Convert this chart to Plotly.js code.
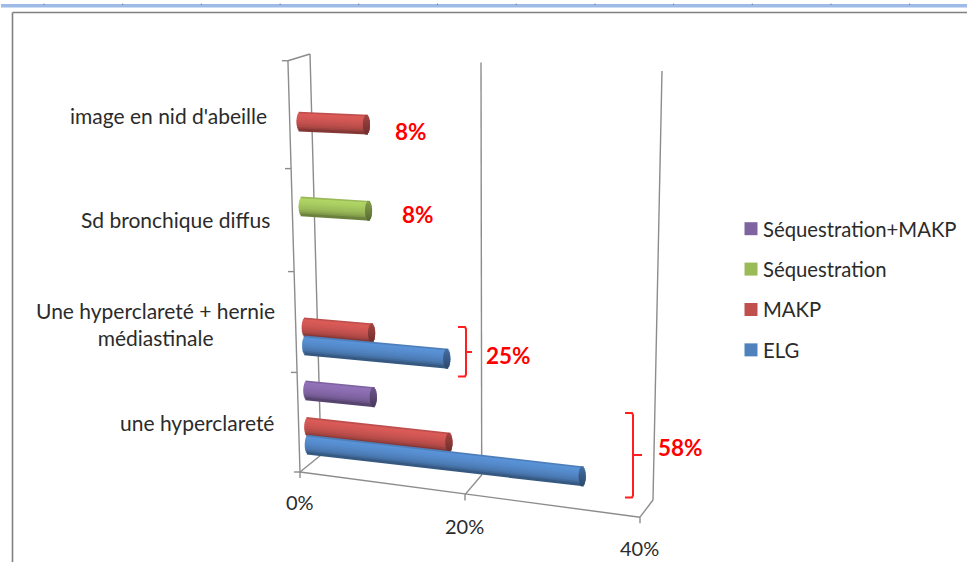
<!DOCTYPE html>
<html lang="fr">
<head>
<meta charset="utf-8">
<title>Images radiologiques</title>
<script src="https://cdn.plot.ly/plotly-3.0.1.min.js"></script>
<style>html,body{margin:0;padding:0;background:#fff;overflow:hidden}#chart{width:967px;height:562px}</style>
</head>
<body>
<div id="chart"></div>
<script>
// Categories, bottom row first; percentages per radiological pattern.
const categories = ["une hyperclareté", "Une hyperclareté + hernie<br>médiastinale", "Sd bronchique diffus", "image en nid d'abeille"];
const ELG = [33, 17, 0, 0];
const MAKP = [17, 8, 0, 8];
const Sequestration = [0, 0, 8, 0];
const SequestrationMAKP = [8, 0, 0, 0];
const valueTicks = [0, 20, 40];
const valueTickLabels = ["0%", "20%", "40%"];
const groupLabels = ["58%", "25%", "8%", "8%"];

const seriesList = [
  {name: "ELG", values: ELG, color: [79, 129, 189], slot: 0.27},
  {name: "MAKP", values: MAKP, color: [192, 80, 77], slot: 0.45},
  {name: "Séquestration", values: Sequestration, color: [155, 187, 89], slot: 0.635},
  {name: "Séquestration+MAKP", values: SequestrationMAKP, color: [128, 100, 162], slot: 0.82}
];

// Oblique projection of the 3D plot: pixels per percent, and how the
// rows drift, tilt and compress with depth up the category axis.
const W = 967, H = 562, ORIGIN = 300, K = 8.3;
const toX = px => (px - ORIGIN) / K;
const rowLeft = r => 309 - 2.6 * r;
const rowY = r => 471 - 97.5 * r - 1.1 * r * r;
const rowSlope = r => 0.122 - 0.0215 * r;
const project = (v, r) => ({x: toX(rowLeft(r)) + v, y: rowY(r) + rowSlope(r) * K * v});

// Wall and floor edges of the box, as functions of the percentage.
const floorFront = v => ({x: toX(300 + 8.0 * v + 0.0125 * v * v), y: 472 + 1.13 * v});
const floorBack = v => ({x: toX(321 + 7.77 * v + 0.01325 * v * v), y: 455 + 0.875 * v + 0.00625 * v * v});
const wallTop = v => ({x: toX(310 + 8.3 * v + 0.0125 * v * v), y: 54 + 0.425 * v});
const axisEdge = r => ({x: toX(300 - 3 * r), y: r === 0 ? 472 : rowY(r)});

const traces = [];
const frameX = [], frameY = [];
const seg = (a, b) => { frameX.push(a.x, b.x, null); frameY.push(a.y, b.y, null); };
valueTicks.forEach(v => {
  seg(floorFront(v), floorBack(v));
  seg(floorBack(v), wallTop(v));
  const f = floorFront(v);
  seg(f, {x: f.x, y: f.y + 6});
});
seg(floorFront(valueTicks[0]), floorFront(valueTicks[2]));
const AXIS_TOP = 4.025;
[0, 1, 2, 3, AXIS_TOP].forEach(r => {
  const e = axisEdge(r);
  seg({x: e.x - 6 / K, y: e.y}, e);
});
seg(axisEdge(0), axisEdge(AXIS_TOP));
seg(axisEdge(AXIS_TOP), wallTop(0));
traces.push({type: "scatter", mode: "lines", x: frameX, y: frameY, showlegend: false, hoverinfo: "skip",
  line: {color: "#8c8c8c", width: 1.4}});

// Each cylinder is stacked from thin horizontal bands so the shading
// wraps around it; the far end gets a darker elliptical cap.
const THICK = 20.5, BANDS = 11, BULGE = 3.5;
const shade = t => {
  const stops = [[-1, 0.9], [-0.75, 1.14], [-0.35, 1.1], [0.25, 1.0], [0.65, 0.88], [1, 0.62]];
  for (let i = 1; i < stops.length; i++) {
    if (t <= stops[i][0]) {
      const a = stops[i - 1], b = stops[i];
      return a[1] + (b[1] - a[1]) * (t - a[0]) / (b[0] - a[0]);
    }
  }
  return 0.62;
};
const rgb = (c, f) => "rgb(" + c.map(n => Math.min(255, Math.round(n * f))).join(",") + ")";

function addCylinder(series, catIndex, value) {
  const r = catIndex + series.slot;
  const start = project(0, r), end = project(value, r);
  const bw = THICK / BANDS;
  for (let i = 0; i < BANDS; i++) {
    const t = -1 + (2 * i + 1) / BANDS;
    const off = t * (THICK - bw) / 2;
    const bulge = BULGE * Math.sqrt(Math.max(0, 1 - t * t)) / K;
    traces.push({type: "scatter", mode: "lines", showlegend: false, hoverinfo: "skip",
      x: [start.x - bulge, end.x + bulge], y: [start.y + off, end.y + off],
      line: {color: rgb(series.color, shade(t)), width: bw + 1}});
  }
  for (let i = 0; i < BANDS; i++) {
    const t = -1 + (2 * i + 1) / BANDS;
    const off = t * (THICK - bw) / 2;
    const bulge = BULGE * Math.sqrt(Math.max(0, 1 - t * t)) / K;
    const dy = rowSlope(r) * K * bulge;
    traces.push({type: "scatter", mode: "lines", showlegend: false, hoverinfo: "skip",
      x: [end.x - bulge, end.x + bulge], y: [end.y + off - dy, end.y + off + dy],
      line: {color: rgb(series.color, 0.72 - 0.14 * t), width: bw + 1}});
  }
}

// Far rows are painted first so nearer cylinders sit in front of them.
for (let c = categories.length - 1; c >= 0; c--) {
  for (let s = seriesList.length - 1; s >= 0; s--) {
    if (seriesList[s].values[c] > 0) addCylinder(seriesList[s], c, seriesList[s].values[c]);
  }
}

// Red brackets grouping the bars of a category.
const bracket = (px, top, bottom, tipPx, tipY) => {
  const xs = [px - 8, px - 1, px, px, tipPx, px, px, px - 1, px - 8].map(toX);
  const ys = [top, top, top + 2, tipY, tipY, tipY, bottom - 2, bottom, bottom];
  traces.push({type: "scatter", mode: "lines", x: xs, y: ys, showlegend: false, hoverinfo: "skip",
    line: {color: "#ff1f1f", width: 2}});
};
bracket(633, 413, 497.5, 642, 455);
bracket(466, 327, 376.5, 472, 352);

// Legend entries, top to bottom.
[...seriesList].reverse().forEach(s => {
  traces.push({type: "scatter", mode: "markers", x: [null], y: [null], name: s.name, legendgroup: s.name,
    marker: {symbol: "square", size: 13, color: rgb(s.color, 1)}, hoverinfo: "skip"});
});

const textFont = {family: "Lato, 'Open Sans', sans-serif", size: 21, color: "#2b2b2b"};
const tickFont = {family: "Lato, 'Open Sans', sans-serif", size: 20, color: "#2b2b2b"};
const redFont = {family: "Lato, 'Open Sans', sans-serif", size: 22.5, color: "#ff0000", weight: 700};
const ann = (text, px, y, xanchor, font, align) => ({text, x: toX(px), y, xref: "x", yref: "y", xanchor, yanchor: "middle",
  showarrow: false, font, align: align || "center"});

const annotations = [
  ann(categories[0], 276, 422, "right", textFont),
  ann(categories[1], 155, 324, "center", textFont),
  ann(categories[2], 272, 219.5, "right", textFont),
  ann(categories[3], 269, 115, "right", textFont),
  ann(valueTickLabels[0], 300, 502, "center", tickFont),
  ann(valueTickLabels[1], 464, 526, "center", tickFont),
  ann(valueTickLabels[2], 639, 548, "center", tickFont),
  ann(groupLabels[0], 680, 447, "center", redFont),
  ann(groupLabels[1], 508, 355, "center", redFont),
  ann(groupLabels[2], 418, 214, "center", redFont),
  ann(groupLabels[3], 411, 131, "center", redFont)
];

// Surrounding window: blue strip with small notches, grey frame of the sheet.
const shapes = [
  {type: "rect", xref: "paper", yref: "paper", x0: 1 / W, x1: 1, y0: 1 - 7.5 / H, y1: 1 - 4 / H,
    fillcolor: "#9dbbe6", line: {width: 0}, layer: "below"},
  {type: "line", xref: "paper", yref: "paper", x0: 12.5 / W, x1: 1, y0: 1 - 12.5 / H, y1: 1 - 12.5 / H,
    line: {color: "#808080", width: 1.6}, layer: "below"},
  {type: "line", xref: "paper", yref: "paper", x0: 12.5 / W, x1: 12.5 / W, y0: 0, y1: 1 - 12.5 / H,
    line: {color: "#808080", width: 1.6}, layer: "below"}
];
for (let px = 44; px < W; px += 78.7) {
  shapes.push({type: "line", xref: "paper", yref: "paper", x0: px / W, x1: px / W, y0: 1 - 5 / H, y1: 1 - 3.5 / H,
    line: {color: "#7d8796", width: 1}, layer: "below"});
}

const layout = {
  width: W, height: H, margin: {l: 0, r: 0, t: 0, b: 0, autoexpand: false},
  paper_bgcolor: "#ffffff", plot_bgcolor: "#ffffff",
  xaxis: {range: [toX(0), toX(W)], visible: false, fixedrange: true},
  yaxis: {range: [H, 0], visible: false, fixedrange: true},
  showlegend: true,
  legend: {x: 731 / W, xanchor: "left", y: 1 - 209 / H, yanchor: "top", traceorder: "grouped", tracegroupgap: 11,
    bgcolor: "rgba(0,0,0,0)", borderwidth: 0, itemwidth: 30,
    font: {family: "Lato, 'Open Sans', sans-serif", size: 20.3, color: "#2b2b2b"}},
  annotations, shapes, hovermode: false
};
Plotly.newPlot("chart", traces, layout, {displayModeBar: false, staticPlot: true}).then(gd => {
  // Bring the legend labels closer to their swatches than the default spacing.
  gd.querySelectorAll(".legendtext").forEach(t => t.setAttribute("x", "32"));
});
</script>
</body>
</html>
